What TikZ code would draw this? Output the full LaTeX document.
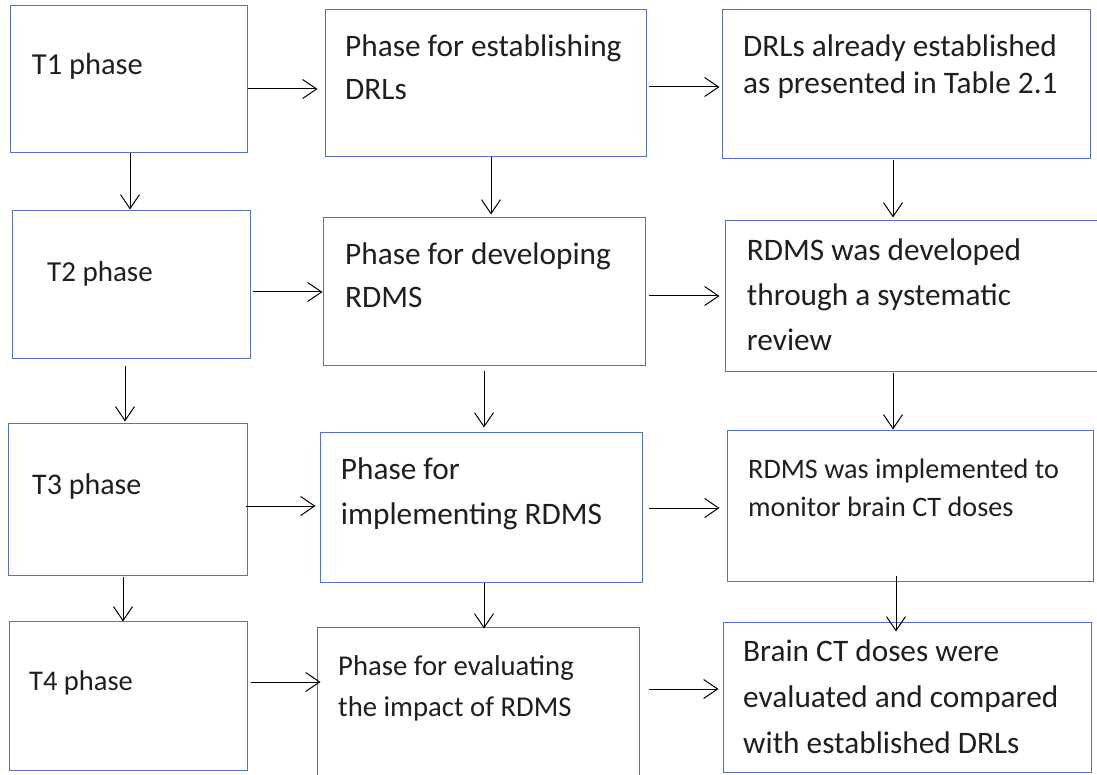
\documentclass[tikz,border=0pt]{standalone}
\usepackage{fontspec}
\setmainfont{Carlito}
\usetikzlibrary{arrows.meta}
\definecolor{boxblue}{RGB}{84,116,182}
\begin{document}
\begin{tikzpicture}[x=1pt,y=-1pt,
  box/.style={draw=boxblue, line width=1pt, inner sep=0pt, rectangle},
  arr/.style={-{Straight Barb[length=14pt,width=19pt,line width=1pt]}, line width=1pt},
  txt/.style={anchor=base west, inner sep=0pt, text=black!88}]
\useasboundingbox (0,0) rectangle (1097,775);
\begin{scope}
\clip (0,0) rectangle (1097,775);
% left column
\node[box, minimum width=237pt, minimum height=147pt] (T1) at (128.5,79.5) {};
\node[box, minimum width=238pt, minimum height=147pt] (T2) at (131,284.5) {};
\node[box, minimum width=239pt, minimum height=152pt] (T3) at (127.5,499) {};
\node[box, minimum width=238pt, minimum height=149pt] (T4) at (128,695.5) {};
% middle column
\node[box, minimum width=321pt, minimum height=147pt] (B1) at (485.5,83.5) {};
\node[box, minimum width=322pt, minimum height=147pt] (B2) at (484,291.5) {};
\node[box, minimum width=322pt, minimum height=150pt] (B3) at (481,507) {};
\node[box, minimum width=322pt, minimum height=173pt] (B4) at (478,713.5) {};
% right column
\node[box, minimum width=368pt, minimum height=149pt] (C1) at (906,84.5) {};
\node[box, minimum width=385pt, minimum height=150pt] (C2) at (917.5,296) {};
\node[box, minimum width=366pt, minimum height=151pt] (C3) at (910,505.5) {};
\node[box, minimum width=368pt, minimum height=150pt] (C4) at (907,697) {};
\end{scope}
% texts
\node[txt, font=\fontsize{30.5}{36}\selectfont] (t1) at (31.7,74.3) {T1 phase};
\node[txt, font=\fontsize{29}{36}\selectfont] (t2) at (47,282) {T2 phase};
\node[txt, font=\fontsize{30}{36}\selectfont] (t3) at (32,494) {T3 phase};
\node[txt, font=\fontsize{28.5}{36}\selectfont] (t4) at (29,690) {T4 phase};
\begin{scope}[every node/.append style={font=\fontsize{31.3}{36}\selectfont}]
\node[txt] (b1a) at (345,56.7) {Phase for establishing};
\node[txt] (b1b) at (345,100) {DRLs};
\node[txt] (b2a) at (345,265) {Phase for developing};
\node[txt] (b2b) at (345,308) {RDMS};
\node[txt] (b3a) at (340.7,479) {Phase for};
\node[txt] (b3b) at (340.7,524) {implementing RDMS};
\node[txt] (c1a) at (743,56.7) {DRLs already established};
\node[txt] (c1b) at (743,93.3) {as presented in Table 2.1};
\node[txt] (c2a) at (746.7,261) {RDMS was developed};
\node[txt] (c2b) at (746.7,306) {through a systematic};
\node[txt] (c2c) at (746.7,350) {review};
\node[txt] (c4a) at (743,661.7) {Brain CT doses were};
\node[txt] (c4b) at (743,707.7) {evaluated and compared};
\node[txt] (c4c) at (743,753.3) {with established DRLs};
\end{scope}
\node[txt, font=\fontsize{28.7}{36}\selectfont] (b4a) at (338,675) {Phase for evaluating};
\node[txt, font=\fontsize{28.7}{36}\selectfont] (b4b) at (338,716.7) {the impact of RDMS};
\node[txt, font=\fontsize{28.2}{36}\selectfont] (c3a) at (748,478.3) {RDMS was implemented to};
\node[txt, font=\fontsize{28.2}{36}\selectfont] (c3b) at (748,516.7) {monitor brain CT doses};
% horizontal arrows
\draw[arr] ([shift={(0,9.5)}]T1.east) -- ([shift={(-7,5.5)}]B1.west);
\draw[arr] ([shift={(2,3.5)}]B1.east) -- ([shift={(-2,2.5)}]C1.west);
\draw[arr] ([shift={(2,7.5)}]T2.east) -- ([shift={(0,0.5)}]B2.west);
\draw[arr] ([shift={(3,4.5)}]B2.east) -- ([shift={(-5,0)}]C2.west);
\draw[arr] ([shift={(-2,7)}]T3.east) -- ([shift={(-4,-1)}]B3.west);
\draw[arr] ([shift={(6,1)}]B3.east) -- ([shift={(-7,2.5)}]C3.west);
\draw[arr] ([shift={(3,-13.5)}]T4.east) -- ([shift={(4,-31.5)}]B4.west);
\draw[arr] ([shift={(9,-24.5)}]B4.east) -- ([shift={(-4,-8)}]C4.west);
% vertical arrows
\draw[arr] ([shift={(1.5,0)}]T1.south) -- ([shift={(-1,-1)}]T2.north);
\draw[arr] ([shift={(5.5,0)}]B1.south) -- ([shift={(7,-3)}]B2.north);
\draw[arr] ([shift={(-13,1)}]C1.south) -- ([shift={(-24.5,-3)}]C2.north);
\draw[arr] ([shift={(-6,7)}]T2.south) -- ([shift={(-2.5,-1)}]T3.north);
\draw[arr] ([shift={(0,5)}]B2.south) -- ([shift={(3,-4)}]B3.north);
\draw[arr] ([shift={(-24.5,1)}]C2.south) -- ([shift={(-17,0)}]C3.north);
\draw[arr] ([shift={(-4.5,1)}]T3.south) -- ([shift={(-5,1)}]T4.north);
\draw[arr] ([shift={(3,0)}]B3.south) -- ([shift={(6,2)}]B4.north);
\draw[arr] ([shift={(-14,-6)}]C3.south) -- ([shift={(-11,10)}]C4.north);
\end{tikzpicture}
\end{document}
